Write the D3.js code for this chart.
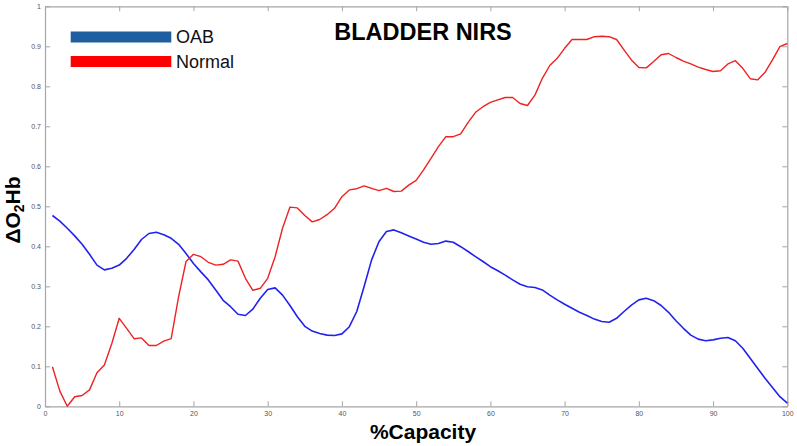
<!DOCTYPE html>
<html>
<head>
<meta charset="utf-8">
<script src="https://cdn.jsdelivr.net/npm/d3@7"></script>
<style>
  html, body { margin: 0; padding: 0; background: #fff; }
  svg { display: block; font-family: Arial, "Liberation Sans", sans-serif; }
</style>
</head>
<body>
<svg id="chart" width="797" height="446"></svg>
<script>
// ---- data ----
const capacity = d3.range(1, 101);
const oab = [
  0.477, 0.463, 0.445, 0.426, 0.405, 0.380, 0.353, 0.341, 0.345, 0.353,
  0.370, 0.392, 0.417, 0.432, 0.435, 0.429, 0.420, 0.405, 0.382, 0.357,
  0.336, 0.316, 0.291, 0.265, 0.249, 0.230, 0.227, 0.243, 0.270, 0.292,
  0.296, 0.278, 0.252, 0.224, 0.200, 0.188, 0.182, 0.178, 0.177, 0.181,
  0.199, 0.237, 0.300, 0.366, 0.412, 0.437, 0.441, 0.434, 0.426, 0.418,
  0.410, 0.405, 0.407, 0.413, 0.410, 0.399, 0.387, 0.374, 0.362, 0.349,
  0.339, 0.328, 0.316, 0.305, 0.299, 0.297, 0.291, 0.278, 0.266, 0.255,
  0.245, 0.235, 0.227, 0.218, 0.212, 0.210, 0.220, 0.237, 0.253, 0.266,
  0.270, 0.264, 0.252, 0.235, 0.214, 0.195, 0.178, 0.168, 0.164, 0.166,
  0.170, 0.172, 0.164, 0.145, 0.120, 0.095, 0.070, 0.047, 0.024, 0.008
];
const normal = [
  0.099, 0.038, 0.000, 0.024, 0.027, 0.041, 0.084, 0.103, 0.157, 0.220,
  0.195, 0.169, 0.171, 0.152, 0.152, 0.163, 0.169, 0.274, 0.362, 0.380,
  0.374, 0.360, 0.353, 0.355, 0.366, 0.363, 0.320, 0.290, 0.295, 0.320,
  0.374, 0.445, 0.498, 0.496, 0.477, 0.461, 0.467, 0.479, 0.495, 0.524,
  0.541, 0.544, 0.551, 0.545, 0.539, 0.545, 0.537, 0.538, 0.553, 0.565,
  0.591, 0.620, 0.649, 0.674, 0.674, 0.681, 0.710, 0.735, 0.749, 0.760,
  0.766, 0.772, 0.772, 0.757, 0.752, 0.778, 0.820, 0.852, 0.870, 0.895,
  0.917, 0.917, 0.917, 0.924, 0.925, 0.924, 0.917, 0.891, 0.866, 0.847,
  0.846, 0.862, 0.879, 0.882, 0.872, 0.863, 0.856, 0.848, 0.842, 0.837,
  0.839, 0.856, 0.864, 0.845, 0.819, 0.816, 0.835, 0.866, 0.899, 0.907
];
const xTicks = [0, 10, 20, 30, 40, 50, 60, 70, 80, 90, 100];
const yTicks = [0, 0.1, 0.2, 0.3, 0.4, 0.5, 0.6, 0.7, 0.8, 0.9, 1];
const seriesNames = ["OAB", "Normal"];

// ---- layout ----
const svg = d3.select("#chart");
const W = 797, H = 446;
const m = { left: 45, right: 9.7, top: 6.3, bottom: 39.7 };
const x = d3.scaleLinear().domain([0, 100]).range([m.left, W - m.right]);
const y = d3.scaleLinear().domain([0, 1]).range([H - m.bottom, m.top]);

const axisColor = "#a6a6a6";
const tickTextColor = "#555";

function styleAxis(g, showText) {
  g.select(".domain").attr("stroke", axisColor).attr("stroke-width", 1.2);
  g.selectAll(".tick line").attr("stroke", axisColor).attr("stroke-width", 1);
  g.selectAll(".tick text")
    .attr("fill", tickTextColor)
    .style("font-size", "7px")
    .style("font-family", "Arial, 'Liberation Sans', sans-serif")
    .style("display", showText ? null : "none");
}

// bottom axis (inward ticks)
svg.append("g")
  .attr("transform", `translate(0,${y(0)})`)
  .call(d3.axisBottom(x).tickValues(xTicks).tickSizeInner(-5).tickSizeOuter(0).tickPadding(4.5).tickFormat(d3.format("d")))
  .call(g => styleAxis(g, true));
// top axis
svg.append("g")
  .attr("transform", `translate(0,${y(1)})`)
  .call(d3.axisTop(x).tickValues(xTicks).tickSizeInner(-5).tickSizeOuter(0))
  .call(g => styleAxis(g, false));
// left axis
svg.append("g")
  .attr("transform", `translate(${x(0)},0)`)
  .call(d3.axisLeft(y).tickValues(yTicks).tickSizeInner(-5).tickSizeOuter(0).tickPadding(4).tickFormat(d => d === 0 || d === 1 ? d3.format("d")(d) : d3.format(".1f")(d)))
  .call(g => styleAxis(g, true));
// right axis
svg.append("g")
  .attr("transform", `translate(${x(100)},0)`)
  .call(d3.axisRight(y).tickValues(yTicks).tickSizeInner(-5).tickSizeOuter(0))
  .call(g => styleAxis(g, false));

// ---- lines ----
const line = d3.line().x((d, i) => x(capacity[i])).y(d => y(d));
svg.append("path").datum(oab)
  .attr("fill", "none").attr("stroke", "#2222ee").attr("stroke-width", 1.6)
  .attr("stroke-linejoin", "round").attr("d", line);
svg.append("path").datum(normal)
  .attr("fill", "none").attr("stroke", "#ee2222").attr("stroke-width", 1.4)
  .attr("stroke-linejoin", "round").attr("d", line);

// ---- legend ----
const legendColors = ["#1f5f9f", "#ff0000"];
const lg = svg.append("g");
seriesNames.forEach((name, i) => {
  const cy = 37 + i * 24.5;
  lg.append("rect").attr("x", 70.7).attr("y", cy - 5.5).attr("width", 100.6).attr("height", 11)
    .attr("fill", legendColors[i]);
  lg.append("text").attr("x", 176).attr("y", cy + 6.3)
    .attr("font-size", "18px").attr("fill", "#111").text(name);
});

// ---- titles ----
svg.append("text").attr("x", 423).attr("y", 40).attr("text-anchor", "middle")
  .attr("font-size", "23.5px").attr("font-weight", "bold").attr("fill", "#000")
  .text("BLADDER NIRS");
svg.append("text").attr("x", 423).attr("y", 438.5).attr("text-anchor", "middle")
  .attr("font-size", "21px").attr("font-weight", "bold").attr("fill", "#000")
  .text("%Capacity");
const yl = svg.append("text")
  .attr("transform", "translate(19.5,210) rotate(-90)")
  .attr("text-anchor", "middle")
  .attr("font-size", "21px").attr("font-weight", "bold").attr("fill", "#000");
yl.append("tspan").text("ΔO");
yl.append("tspan").attr("font-size", "14px").attr("dy", 4).text("2");
yl.append("tspan").attr("dy", -4).text("Hb");
</script>
</body>
</html>
